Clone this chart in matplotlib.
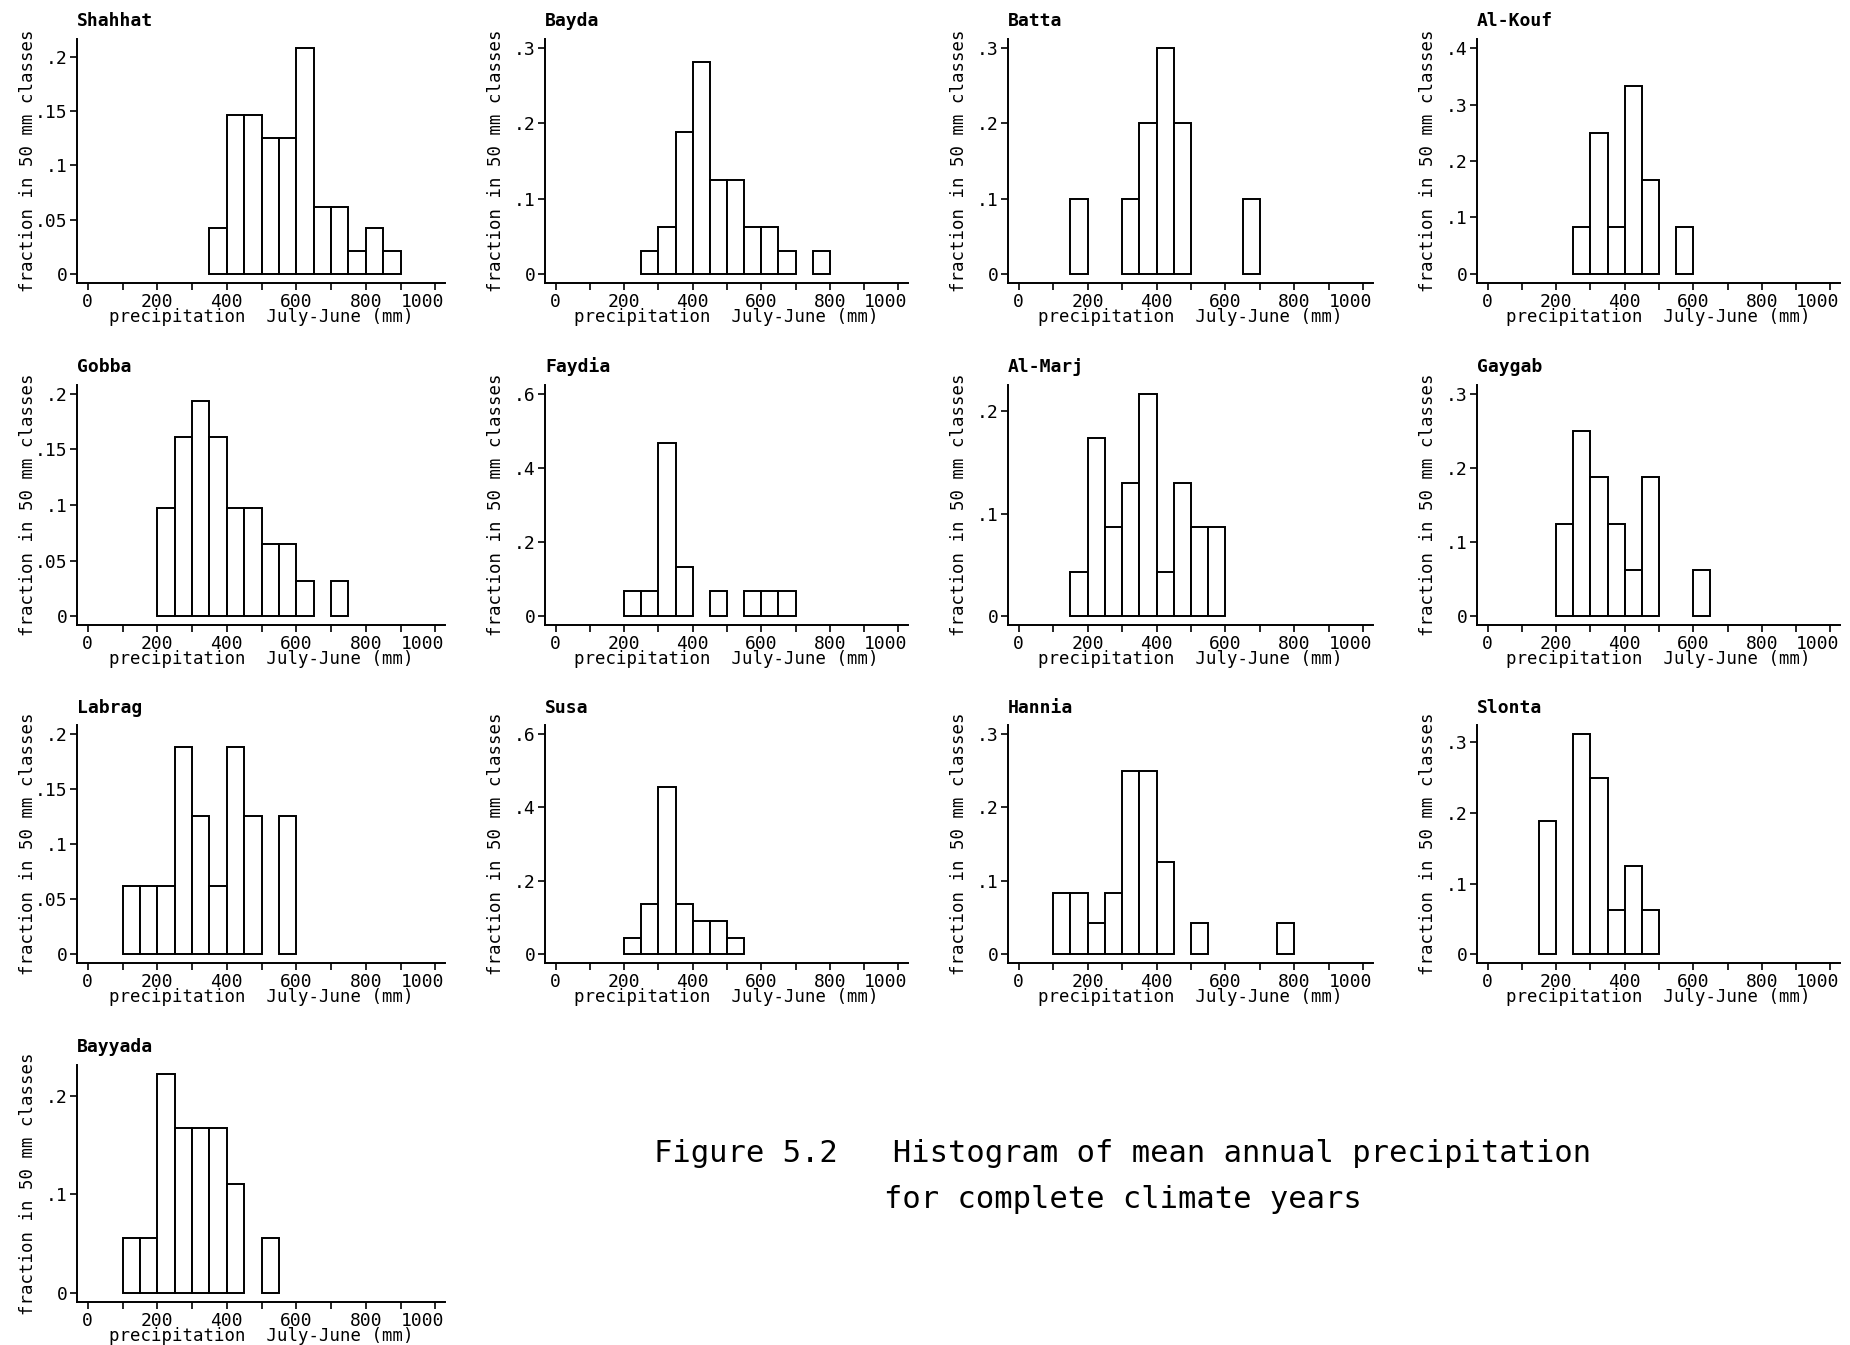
import matplotlib.pyplot as plt, numpy as np
import matplotlib.transforms as mtransforms

plt.rcParams['font.family'] = 'DejaVu Sans Mono'

# stations and histogram data (50 mm classes, left edge of each class)
stations = ['Shahhat', 'Bayda', 'Batta', 'Al-Kouf',
            'Gobba', 'Faydia', 'Al-Marj', 'Gaygab',
            'Labrag', 'Susa', 'Hannia', 'Slonta',
            'Bayyada']

bin_lefts = [
    [350, 400, 450, 500, 550, 600, 650, 700, 750, 800, 850],
    [250, 300, 350, 400, 450, 500, 550, 600, 650, 750],
    [150, 300, 350, 400, 450, 650],
    [250, 300, 350, 400, 450, 550],
    [200, 250, 300, 350, 400, 450, 500, 550, 600, 700],
    [200, 250, 300, 350, 450, 550, 600, 650],
    [150, 200, 250, 300, 350, 400, 450, 500, 550],
    [200, 250, 300, 350, 400, 450, 600],
    [100, 150, 200, 250, 300, 350, 400, 450, 550],
    [200, 250, 300, 350, 400, 450, 500],
    [100, 150, 200, 250, 300, 350, 400, 500, 750],
    [150, 250, 300, 350, 400, 450],
    [100, 150, 200, 250, 300, 350, 400, 500],
]

fractions = [
    [0.042, 0.146, 0.146, 0.125, 0.125, 0.208, 0.062, 0.062, 0.021, 0.042, 0.021],
    [0.031, 0.062, 0.188, 0.281, 0.125, 0.125, 0.062, 0.062, 0.031, 0.031],
    [0.1, 0.1, 0.2, 0.3, 0.2, 0.1],
    [0.083, 0.25, 0.083, 0.333, 0.167, 0.083],
    [0.097, 0.161, 0.194, 0.161, 0.097, 0.097, 0.065, 0.065, 0.032, 0.032],
    [0.067, 0.067, 0.467, 0.133, 0.067, 0.067, 0.067, 0.067],
    [0.043, 0.174, 0.087, 0.130, 0.217, 0.043, 0.130, 0.087, 0.087],
    [0.125, 0.25, 0.188, 0.125, 0.062, 0.188, 0.062],
    [0.062, 0.062, 0.062, 0.188, 0.125, 0.062, 0.188, 0.125, 0.125],
    [0.045, 0.136, 0.455, 0.136, 0.091, 0.091, 0.045],
    [0.083, 0.083, 0.042, 0.083, 0.25, 0.25, 0.125, 0.042, 0.042],
    [0.188, 0.312, 0.25, 0.062, 0.125, 0.062],
    [0.056, 0.056, 0.222, 0.167, 0.167, 0.167, 0.111, 0.056],
]

ytick_step = [0.05, 0.1, 0.1, 0.1, 0.05, 0.2, 0.1, 0.1, 0.05, 0.2, 0.1, 0.1, 0.1]
ytick_top = [0.2, 0.3, 0.3, 0.4, 0.2, 0.6, 0.2, 0.3, 0.2, 0.6, 0.3, 0.3, 0.2]

W, H = 1850, 1345
fig = plt.figure(figsize=(W / 100, H / 100), dpi=100)

# panel geometry in pixels
col_left = [77, 545, 1008, 1477]
col_right = [445, 908, 1373, 1840]
row_top = [39, 385, 725, 1065]
row_bottom = [283, 625, 963, 1302]


def fmt(v):
    if abs(v) < 1e-9:
        return '0'
    return ('%g' % round(v, 3)).lstrip('0')


# the "1000" label sits a bit left of its tick in the original
shift_left = mtransforms.ScaledTranslation(-0.13, 0, fig.dpi_scale_trans)

for i, name in enumerate(stations):
    r, c = divmod(i, 4)
    l, rt = col_left[c], col_right[c]
    t, b = row_top[r], row_bottom[r]
    w, h = rt - l, b - t
    ax = fig.add_axes([l / W, 1 - b / H, w / W, h / H])

    ax.bar(bin_lefts[i], fractions[i], width=50, align='edge',
           facecolor='white', edgecolor='black', linewidth=1.4)

    span = max(ytick_top[i], max(fractions[i]))
    ax.set_ylim(-0.04 * span, span * 1.04)
    ax.set_xlim(-31, 1028)

    yt = np.arange(0, ytick_top[i] + ytick_step[i] / 2, ytick_step[i])
    ax.set_yticks(yt)
    ax.set_yticklabels([fmt(v) for v in yt])
    ax.set_xticks(range(0, 1001, 200))
    ax.set_xticks(range(100, 1001, 200), minor=True)

    for s in ['top', 'right']:
        ax.spines[s].set_visible(False)
    for s in ['left', 'bottom']:
        ax.spines[s].set_linewidth(1.4)
    ax.tick_params(which='both', direction='out', length=5, width=1.2,
                   labelsize=13, pad=2)

    lab = ax.get_xticklabels()[-1]
    lab.set_transform(lab.get_transform() + shift_left)

    ax.set_xlabel('precipitation  July-June (mm)', fontsize=12.5)
    ax.xaxis.set_label_coords(0.5, -25 / h)
    ax.set_ylabel('fraction in 50 mm classes', fontsize=12.5)
    ax.yaxis.set_label_coords(-40 / w, 0.5)

    ax.annotate(name, xy=(0, 1), xycoords='axes fraction', xytext=(0, 9),
                textcoords='offset points', ha='left', va='baseline',
                fontsize=13, fontweight='bold')

fig.text(1123 / W, 1 - 1154 / H,
         'Figure 5.2   Histogram of mean annual precipitation',
         ha='center', va='center', fontsize=22)
fig.text(1123 / W, 1 - 1200 / H, 'for complete climate years',
         ha='center', va='center', fontsize=22)

fig.savefig('out.png', dpi=100)
